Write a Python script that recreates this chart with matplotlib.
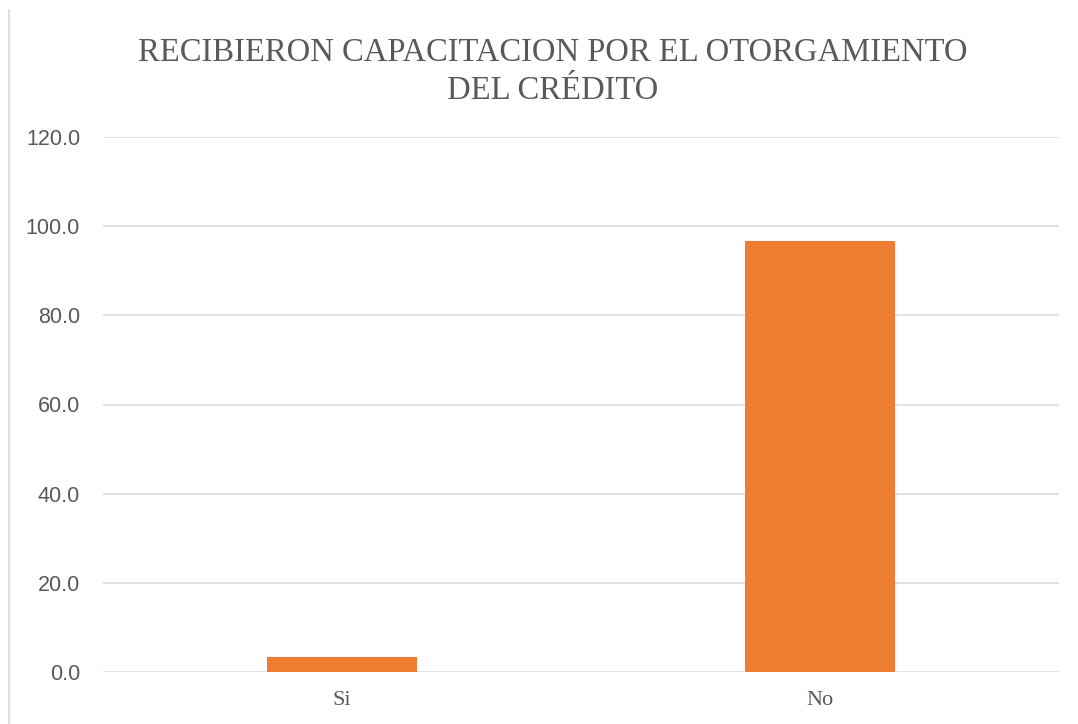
import matplotlib.pyplot as plt
from matplotlib.lines import Line2D

# data
categories = ["Si", "No"]
values = [3.4, 96.6]
yticks = [0, 20, 40, 60, 80, 100, 120]

title = "RECIBIERON CAPACITACION POR EL OTORGAMIENTO\nDEL CRÉDITO"

fig = plt.figure(figsize=(10.78, 7.24), dpi=100)
ax = fig.add_axes([103 / 1078, 52 / 724, 956 / 1078, 535 / 724])

ax.bar(range(len(categories)), values, width=0.314, color="#ED7D31", zorder=3)

ax.set_xlim(-0.5, len(categories) - 0.5)
ax.set_ylim(0, 120)
ax.set_yticks(yticks)
ax.set_yticklabels([f"{v:.1f}" for v in yticks], family="Liberation Sans",
                   fontsize=15.5, color="#595959")
ax.set_xticks(range(len(categories)))
ax.set_xticklabels(categories, family="Liberation Serif", fontsize=16,
                   color="#595959")
ax.tick_params(axis="y", length=0, pad=16.5)
ax.tick_params(axis="x", length=0, pad=14)

ax.grid(axis="y", color="#D9D9D9", linewidth=1.1, zorder=0)
for s in ax.spines.values():
    s.set_visible(False)

fig.text(553 / 1078, 1 - 72 / 724, title, ha="center", va="center",
         family="Liberation Serif", fontsize=23.5, color="#595959",
         linespacing=1.3)

# chart border on the left edge
fig.add_artist(Line2D([8.5 / 1078, 8.5 / 1078], [0, 1 - 10 / 724],
                      color="#D9D9D9", linewidth=1.2))

fig.savefig("out.png", dpi=100)
